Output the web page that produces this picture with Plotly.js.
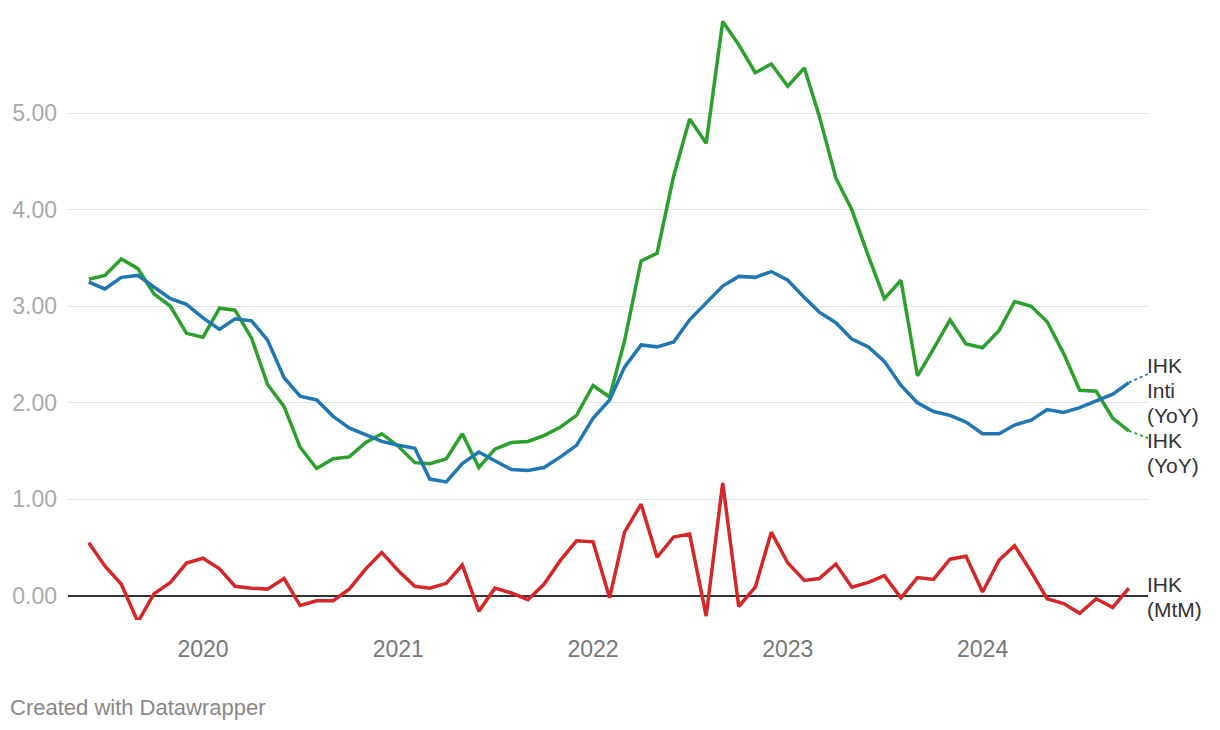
<!DOCTYPE html>
<html>
<head>
<meta charset="utf-8">
<script src="https://cdn.plot.ly/plotly-3.0.1.min.js"></script>
<style>html,body{margin:0;padding:0;background:#fff;}#chart{width:1220px;height:730px;}</style>
</head>
<body>
<div id="chart"></div>
<script>
// Monthly dates: Jun 2019 .. Oct 2024
const months = [];
for (let y = 2019, m = 6; y < 2024 || (y === 2024 && m <= 10); ) {
  months.push(y + '-' + String(m).padStart(2, '0') + '-01');
  m++; if (m > 12) { m = 1; y++; }
}
const ihkYoY = [3.28,3.32,3.49,3.39,3.13,3.00,2.72,
  2.68,2.98,2.96,2.67,2.19,1.96,1.54,1.32,1.42,1.44,1.59,1.68,
  1.55,1.38,1.37,1.42,1.68,1.33,1.52,1.59,1.60,1.66,1.75,1.87,
  2.18,2.06,2.64,3.47,3.55,4.35,4.94,4.69,5.95,5.71,5.42,5.51,
  5.28,5.47,4.97,4.33,4.00,3.52,3.08,3.27,2.28,2.56,2.86,2.61,
  2.57,2.75,3.05,3.00,2.84,2.51,2.13,2.12,1.84,1.71];
const intiYoY = [3.25,3.18,3.30,3.32,3.20,3.08,3.02,
  2.88,2.76,2.87,2.85,2.65,2.26,2.07,2.03,1.86,1.74,1.67,1.60,
  1.56,1.53,1.21,1.18,1.37,1.49,1.40,1.31,1.30,1.33,1.44,1.56,
  1.84,2.03,2.37,2.60,2.58,2.63,2.86,3.04,3.21,3.31,3.30,3.36,
  3.27,3.09,2.94,2.83,2.66,2.58,2.43,2.18,2.00,1.91,1.87,1.80,
  1.68,1.68,1.77,1.82,1.93,1.90,1.95,2.02,2.09,2.21];
const ihkMtM = [0.55,0.31,0.12,-0.27,0.02,0.14,0.34,
  0.39,0.28,0.10,0.08,0.07,0.18,-0.10,-0.05,-0.05,0.07,0.28,0.45,
  0.26,0.10,0.08,0.13,0.32,-0.16,0.08,0.03,-0.04,0.12,0.37,0.57,
  0.56,-0.02,0.66,0.95,0.40,0.61,0.64,-0.21,1.17,-0.11,0.09,0.66,
  0.34,0.16,0.18,0.33,0.09,0.14,0.21,-0.02,0.19,0.17,0.38,0.41,
  0.04,0.37,0.52,0.25,-0.03,-0.08,-0.18,-0.03,-0.12,0.08];
const seriesNames = ['IHK (YoY)', 'IHK Inti (YoY)', 'IHK (MtM)'];
const labelLines = [['IHK', '(YoY)'], ['IHK', 'Inti', '(YoY)'], ['IHK', '(MtM)']];
const labelTop = [1.606, 2.383, 0.114];   // value level of each label's first line
const connectorEnd = [1.60, 2.34];
const yTicks = [0, 1, 2, 3, 4, 5];
const xTicks = ['2020-01-01','2021-01-01','2022-01-01','2023-01-01','2024-01-01'];
const xTickText = ['2020','2021','2022','2023','2024'];
const colors = ['#2ca02c', '#1f77b4', '#d62728'];
const series = [ihkYoY, intiYoY, ihkMtM];

const font = 'Helvetica, "Liberation Sans", Arial, sans-serif';
const traces = series.map((s, i) => ({
  x: months, y: s, type: 'scatter', mode: 'lines', name: seriesNames[i],
  line: {color: colors[i], width: 3.5, join: 'round'}, hoverinfo: 'skip'
}));

const lastX = months[months.length - 1];
const endX = '2024-11-23';
const shapes = [];
const annotations = [];
const lineStep = 0.259; // one text line, in value units
series.forEach((s, i) => {
  if (i < 2) {
    shapes.push({type: 'line', xref: 'x', yref: 'y', x0: lastX, y0: s[s.length - 1], x1: endX, y1: connectorEnd[i],
      line: {color: colors[i], width: 1.8, dash: 'dot'}});
  }
  labelLines[i].forEach((t, k) => {
    annotations.push({xref: 'paper', yref: 'y', x: 1, y: labelTop[i] - k * lineStep, xanchor: 'left', yanchor: 'middle',
      text: t, showarrow: false, align: 'left', xshift: -2, borderpad: 0, font: {family: font, size: 21, color: '#333'}});
  });
});
annotations.push({xref: 'paper', yref: 'paper', x: -0.0555, y: -0.143, xanchor: 'left', yanchor: 'middle',
  text: 'Created with Datawrapper', showarrow: false, font: {family: font, size: 22, color: '#888'}});

const layout = {
  width: 1220, height: 730,
  margin: {l: 68, r: 72, t: 10, b: 110},
  paper_bgcolor: '#fff', plot_bgcolor: '#fff',
  showlegend: false,
  font: {family: font},
  xaxis: {
    type: 'date', range: ['2019-04-23', '2024-11-06'],
    tickvals: xTicks, ticktext: xTickText,
    showgrid: false, zeroline: false, showline: false,
    ticks: 'outside', ticklen: 0, ticklabelstandoff: 8,
    tickfont: {family: font, size: 23, color: '#777'}
  },
  yaxis: {
    range: [-0.25, 6.07], tickvals: yTicks, tickformat: '.2f',
    showgrid: true, gridcolor: '#e3e3e3', gridwidth: 1,
    zeroline: true, zerolinecolor: '#333', zerolinewidth: 1.5,
    showline: false, ticklabelstandoff: 10,
    tickfont: {family: font, size: 23, color: '#aaa'}
  },
  shapes: shapes,
  annotations: annotations
};
Plotly.newPlot('chart', traces, layout, {displayModeBar: false, staticPlot: true});
</script>
</body>
</html>
